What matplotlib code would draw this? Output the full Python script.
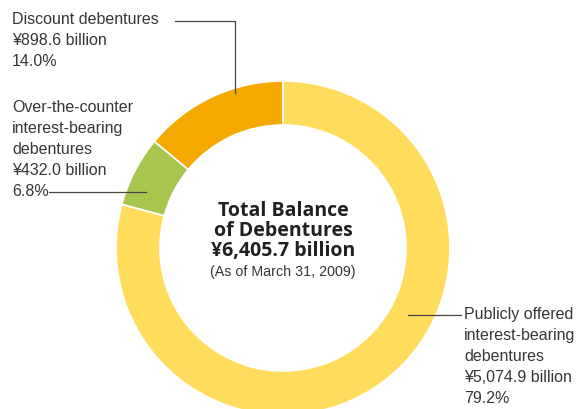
import matplotlib.pyplot as plt

# Debenture balance breakdown
categories = ["Discount debentures",
              "Over-the-counter\ninterest-bearing\ndebentures",
              "Publicly offered\ninterest-bearing\ndebentures"]
amounts = [898.6, 432.0, 5074.9]          # billion yen
shares = [14.0, 6.8, 79.2]                # percent
colors = ["#F5A800", "#A8C64E", "#FFDC5C"]
total = 6405.7

W, H = 579, 409
fig = plt.figure(figsize=(W / 100, H / 100), dpi=100)
ax = fig.add_axes([0, 0, 1, 1])

cx, cy = 283, H - 248
r_out = 167
ring = 44

ax.pie(shares, colors=colors, startangle=90, counterclock=True,
       center=(cx, cy), radius=r_out, frame=True,
       wedgeprops=dict(width=ring, edgecolor="white", linewidth=1.2))
ax.set_xlim(0, W)
ax.set_ylim(0, H)
ax.set_aspect("equal")
ax.axis("off")

txt = "#3a3535"
small = dict(family=["Liberation Sans", "DejaVu Sans"], fontsize=11.5,
             color=txt, linespacing=1.5, va="top", ha="left")

def label(i):
    return f"{categories[i]}\n¥{amounts[i]:,.1f} billion\n{shares[i]:.1f}%"

ax.text(12, H - 12, label(0), **small)
ax.text(12, H - 100, label(1), **small)
ax.text(464, H - 307, label(2), **small)

# leader lines
lc = dict(color="#4a4545", linewidth=0.9)
ax.plot([175, 235, 235], [H - 21, H - 21, H - 93], **lc)
ax.plot([49, 146], [H - 192, H - 192], **lc)
ax.plot([408, 461], [H - 315, H - 315], **lc)

# centre caption
ax.text(cx, H - 231, f"Total Balance\nof Debentures\n¥{total:,.1f} billion",
        ha="center", va="center", fontsize=14, fontweight="bold",
        family=["Open Sans", "DejaVu Sans"], color="#231f20", linespacing=0.98)
ax.text(cx, H - 272, "(As of March 31, 2009)", ha="center", va="center",
        fontsize=10.3, family=["Liberation Sans", "DejaVu Sans"], color=txt)

fig.savefig("out.png", dpi=100)
